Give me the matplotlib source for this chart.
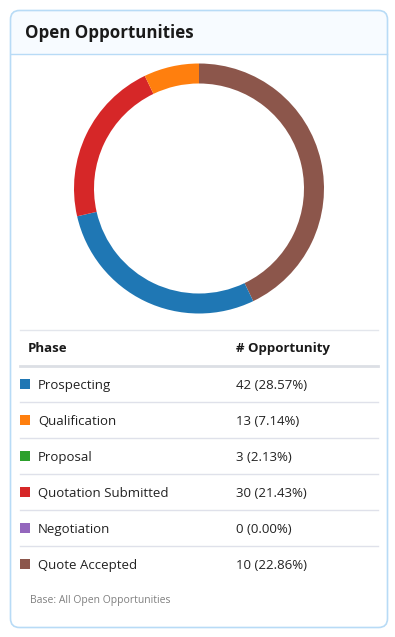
import matplotlib.pyplot as plt
from matplotlib.patches import FancyBboxPatch, Rectangle

# table data
phases = ['Prospecting', 'Qualification', 'Proposal', 'Quotation Submitted',
          'Negotiation', 'Quote Accepted']
counts = [42, 13, 3, 30, 0, 10]
shares = [28.57, 7.14, 2.13, 21.43, 0.00, 22.86]
colors = ['#1f77b4', '#ff7f0e', '#2ca02c', '#d62728', '#9467bd', '#8c564b']

# donut slices as drawn (clockwise from 12 o'clock)
ring_values = [42.86, 28.57, 21.43, 7.14]
ring_colors = ['#8c564b', '#1f77b4', '#d62728', '#ff7f0e']

plt.rcParams['font.family'] = ['Open Sans', 'DejaVu Sans']

W, H = 395, 637
fig = plt.figure(figsize=(W / 100, H / 100), dpi=100)
fig.patch.set_facecolor('white')

ax = fig.add_axes([0, 0, 1, 1])
ax.set_xlim(0, W)
ax.set_ylim(H, 0)
ax.axis('off')

# card
border = '#b8dbf6'
ax.add_patch(FancyBboxPatch((10.5, 10.5), 377, 617, boxstyle='round,pad=0,rounding_size=9',
                            facecolor='#f7fbff', edgecolor='none', zorder=0))
ax.add_patch(Rectangle((11, 53.5), 376, 573.5, facecolor='white', edgecolor='none', zorder=0.5))
ax.plot([11, 387], [53.5, 53.5], color=border, lw=1, zorder=1)
ax.add_patch(FancyBboxPatch((10.5, 10.5), 377, 617, boxstyle='round,pad=0,rounding_size=9',
                            facecolor='none', edgecolor=border, lw=1.2, zorder=2))

ax.text(25, 32.5, 'Open Opportunities', fontsize=12.2, fontweight='bold', color='#1a1a1a',
        va='center', ha='left')

# table
ax.plot([20, 378], [330, 330], color='#e3e6ec', lw=1)
ax.text(28, 348.5, 'Phase', fontsize=9.5, fontweight='bold', color='#1a1a1a', va='center')
ax.text(236, 348.5, '# Opportunity', fontsize=9.5, fontweight='bold', color='#1a1a1a', va='center')
ax.plot([20, 378], [366, 366], color='#dcdfe5', lw=2)

row_y0, row_h = 385.5, 36
for i, (p, c, s, col) in enumerate(zip(phases, counts, shares, colors)):
    y = row_y0 + i * row_h
    ax.add_patch(Rectangle((20, y - 6.5), 10, 10, facecolor=col, edgecolor='none'))
    ax.text(38, y, p, fontsize=9.5, color='#222222', va='center')
    ax.text(236, y, f'{c} ({s:.2f}%)', fontsize=9.5, color='#222222', va='center')
    if i < len(phases) - 1:
        ax.plot([20, 378], [y + 16.5, y + 16.5], color='#dfe1ea', lw=1)

ax.text(30, 600, 'Base: All Open Opportunities', fontsize=7.5, color='#808080', va='center')

# donut
cx, cy, r = 199, 188.5, 125
dax = fig.add_axes([(cx - r) / W, 1 - (cy + r) / H, 2 * r / W, 2 * r / H])
dax.pie(ring_values, colors=ring_colors, startangle=90, counterclock=False,
        wedgeprops=dict(width=20 / r, edgecolor='none'))
dax.set_xlim(-1, 1)
dax.set_ylim(-1, 1)
dax.set_aspect('equal')
dax.axis('off')

fig.savefig('out.png', dpi=100, facecolor='white')
